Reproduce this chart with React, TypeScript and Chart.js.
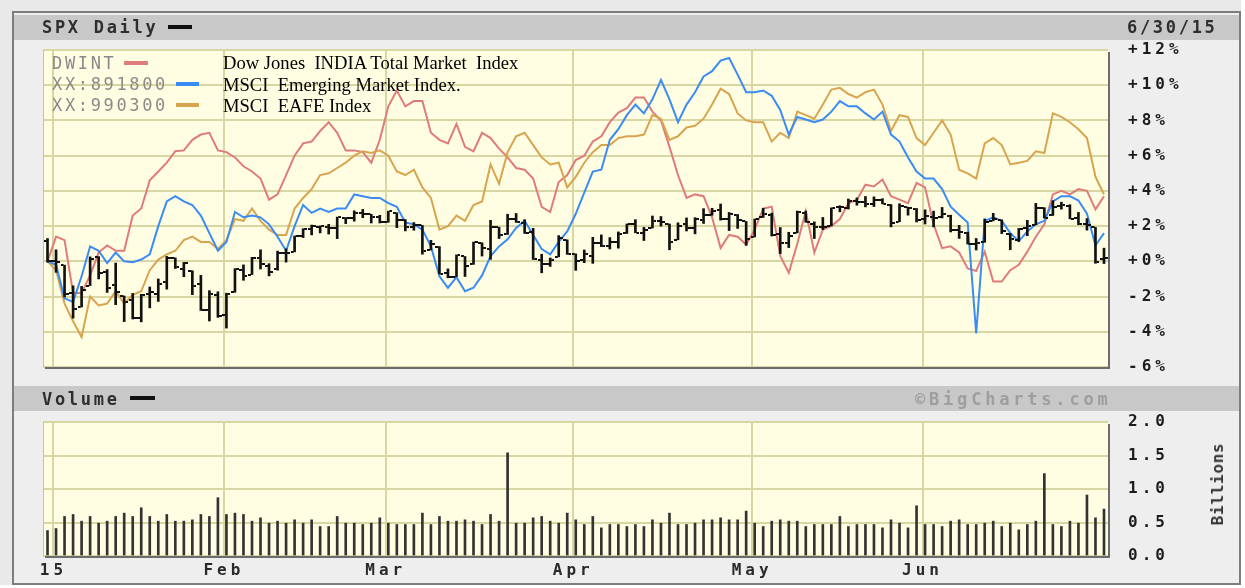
import React, { useEffect, useRef } from 'react';
import { Chart, registerables } from 'chart.js';

Chart.register(...registerables);

// ---------------- DATA ----------------
// SPX reference close on 12/31/14 (0% line of the comparison chart)
const BASE_CLOSE = 2058.9;

// x axis: trading-day index 0 = 12/31/14 ... 124 = 6/30/15
const monthStartIndex = [1, 21, 40, 62, 83, 103];
const monthLabels = ['15', 'Feb', 'Mar', 'Apr', 'May', 'Jun'];

const priceTickValues = [-6, -4, -2, 0, 2, 4, 6, 8, 10, 12];
const priceTickLabels = ['-6%', '-4%', '-2%', '+0%', '+2%', '+4%', '+6%', '+8%', '+10%', '+12%'];
const volumeTickValues = [0, 0.5, 1, 1.5, 2];
const volumeTickLabels = ['0.0', '0.5', '1.0', '1.5', '2.0'];

const spxOpen = [
  2082.11, 2058.9, 2054.44, 2022.15, 2005.55, 2030.61, 2063.45, 2046.13, 2031.58, 2018.4,
  2013.75, 1992.25, 2020.76, 2020.19, 2034.3, 2062.98, 2050.42, 2047.86, 2032.34, 2002.45,
  2019.35, 1996.67, 2022.71, 2048.86, 2043.45, 2062.28, 2053.47, 2049.38, 2068.55, 2069.98,
  2088.78, 2096.47, 2099.16, 2099.25, 2097.65, 2109.83, 2109.1, 2115.3, 2113.91, 2110.88,
  2105.23, 2115.76, 2107.72, 2098.54, 2100.91, 2072.25, 2076.14, 2044.69, 2041.1, 2064.56,
  2055.35, 2080.59, 2072.84, 2098.69, 2090.32, 2107.99, 2103.94, 2093.1, 2059.94, 2055.78,
  2064.11, 2084.05, 2067.63, 2060.03, 2064.87, 2080.79, 2076.94, 2081.29, 2091.51, 2102.03,
  2092.28, 2097.82, 2105.96, 2102.58, 2084.11, 2102.82, 2098.27, 2107.21, 2112.8, 2119.29,
  2108.35, 2112.49, 2105.52, 2087.38, 2110.23, 2112.63, 2091.26, 2079.96, 2092.13, 2115.56,
  2102.87, 2099.62, 2100.43, 2122.07, 2121.3, 2129.45, 2127.79, 2125.55, 2130.36, 2125.34,
  2105.13, 2122.27, 2120.66, 2108.64, 2110.41, 2110.64, 2112.35, 2095.09, 2092.34, 2079.07,
  2081.12, 2106.24, 2107.43, 2091.34, 2084.26, 2097.4, 2101.58, 2121.06, 2112.5, 2123.16,
  2123.65, 2109.96, 2102.62, 2098.63, 2061.19,
];
const spxHigh = [
  2085.58, 2072.36, 2054.44, 2030.25, 2029.61, 2064.08, 2064.43, 2049.3, 2056.93, 2018.4,
  2021.35, 2020.46, 2028.94, 2038.29, 2064.62, 2062.98, 2057.62, 2047.86, 2042.49, 2024.64,
  2023.32, 2021.66, 2050.3, 2054.74, 2063.55, 2072.4, 2056.16, 2070.86, 2073.48, 2088.53,
  2097.03, 2101.3, 2100.23, 2102.13, 2110.61, 2110.05, 2117.94, 2119.59, 2113.91, 2112.74,
  2117.52, 2115.76, 2107.72, 2104.25, 2100.91, 2083.49, 2076.14, 2050.08, 2066.41, 2064.56,
  2081.41, 2080.59, 2106.85, 2098.69, 2113.92, 2114.86, 2107.63, 2097.43, 2067.15, 2062.83,
  2088.97, 2084.05, 2067.63, 2072.17, 2086.99, 2089.81, 2086.69, 2093.31, 2102.61, 2107.65,
  2098.62, 2111.91, 2111.3, 2102.58, 2103.94, 2109.64, 2109.98, 2120.49, 2120.92, 2125.92,
  2116.04, 2113.65, 2105.52, 2108.41, 2120.95, 2115.24, 2098.42, 2092.9, 2117.66, 2117.69,
  2105.06, 2110.19, 2121.45, 2123.89, 2131.78, 2133.02, 2134.72, 2134.28, 2132.15, 2125.34,
  2126.22, 2122.27, 2120.66, 2119.15, 2117.59, 2121.92, 2112.89, 2100.99, 2093.01, 2085.62,
  2108.5, 2115.02, 2107.43, 2091.34, 2097.4, 2106.79, 2126.65, 2121.64, 2129.87, 2128.03,
  2125.1, 2116.04, 2108.92, 2098.63, 2074.28,
];
const spxLow = [
  2057.94, 2046.04, 2017.34, 1992.44, 2005.55, 2030.61, 2038.33, 2022.58, 2008.25, 1988.44,
  1991.47, 1988.12, 2004.49, 2012.04, 2026.38, 2050.54, 2040.97, 2019.91, 2001.49, 1989.18,
  1993.38, 1980.9, 2022.71, 2036.72, 2043.45, 2049.97, 2041.88, 2048.62, 2057.99, 2069.98,
  2086.7, 2089.8, 2092.15, 2090.79, 2085.44, 2103.0, 2105.87, 2109.89, 2103.76, 2103.75,
  2104.5, 2098.26, 2094.49, 2095.22, 2067.27, 2072.21, 2044.16, 2039.69, 2041.1, 2041.17,
  2055.35, 2065.08, 2061.23, 2085.56, 2090.32, 2104.42, 2091.5, 2061.05, 2045.5, 2052.96,
  2064.11, 2067.04, 2048.38, 2057.32, 2056.52, 2076.1, 2073.3, 2074.29, 2091.51, 2092.33,
  2083.24, 2097.82, 2100.02, 2072.37, 2084.11, 2094.38, 2091.05, 2103.19, 2112.8, 2107.04,
  2094.89, 2097.41, 2077.59, 2087.38, 2110.23, 2088.46, 2067.93, 2074.99, 2092.13, 2104.58,
  2085.57, 2096.04, 2100.43, 2116.81, 2120.01, 2124.5, 2122.59, 2122.95, 2126.06, 2099.18,
  2105.13, 2112.86, 2104.89, 2102.54, 2099.14, 2109.61, 2093.23, 2085.67, 2079.11, 2072.14,
  2081.12, 2106.24, 2091.33, 2072.49, 2082.1, 2088.86, 2101.58, 2109.45, 2112.5, 2119.89,
  2108.58, 2101.78, 2095.38, 2056.64, 2056.32,
];
const spxClose = [
  2058.9, 2058.2, 2020.58, 2002.61, 2025.9, 2062.14, 2044.81, 2028.26, 2023.03, 2011.27,
  1992.67, 2019.42, 2022.55, 2032.12, 2063.15, 2051.82, 2057.09, 2029.55, 2002.16, 2021.25,
  1994.99, 2020.85, 2050.03, 2041.51, 2062.52, 2055.47, 2046.74, 2068.59, 2068.53, 2088.48,
  2096.99, 2100.34, 2099.68, 2097.45, 2110.3, 2109.66, 2115.48, 2113.86, 2110.74, 2104.5,
  2117.39, 2107.78, 2098.53, 2101.04, 2071.26, 2079.43, 2044.16, 2040.24, 2065.95, 2053.4,
  2081.19, 2074.28, 2099.5, 2089.27, 2108.1, 2104.42, 2091.5, 2061.05, 2056.15, 2061.02,
  2086.24, 2067.89, 2059.69, 2066.96, 2080.62, 2076.33, 2081.9, 2091.18, 2102.06, 2092.43,
  2095.84, 2106.63, 2104.99, 2081.18, 2100.4, 2097.29, 2107.96, 2112.93, 2117.69, 2108.92,
  2114.76, 2106.85, 2085.51, 2108.29, 2114.49, 2089.46, 2080.15, 2088.0, 2116.1, 2105.33,
  2099.12, 2098.48, 2121.1, 2122.73, 2129.2, 2127.83, 2125.85, 2130.82, 2126.06, 2104.2,
  2123.48, 2120.79, 2107.39, 2111.73, 2109.6, 2114.07, 2095.84, 2092.83, 2079.28, 2080.15,
  2105.2, 2108.86, 2094.11, 2084.43, 2096.29, 2100.44, 2121.24, 2109.99, 2122.85, 2124.2,
  2108.58, 2102.31, 2101.49, 2057.64, 2063.11,
];

// Comparison lines, % change since 12/31/14
const dwint = [
  0.0, 1.4, 1.2, -1.8, -1.8, -0.8, 0.5, 0.9, 0.6, 0.6,
  2.6, 3.0, 4.6, 5.1, 5.6, 6.25, 6.3, 6.9, 7.2, 7.3,
  6.3, 6.2, 5.9, 5.4, 5.1, 4.7, 3.5, 3.8, 4.9, 6.0,
  6.7, 6.8, 7.4, 7.9, 7.3, 6.3, 6.3, 6.2, 5.6, 6.9,
  8.8, 9.7, 8.8, 9.1, 9.1, 7.3, 6.9, 6.7, 7.8, 6.5,
  6.25, 7.3, 7.0, 6.4, 5.9, 5.3, 5.2, 4.7, 3.1, 2.8,
  4.5, 4.9, 5.75, 6.0, 6.8, 7.1, 7.9, 8.45, 8.7, 9.3,
  9.3, 8.5, 8.0, 6.5, 4.9, 3.6, 3.8, 3.7, 2.5, 0.75,
  1.5, 1.4, 0.95, 1.8, 3.0, 3.1, 0.3, -0.65, 1.0, 2.85,
  0.5, 1.8, 2.0, 2.4, 3.3, 3.5, 4.35, 4.25, 4.65, 3.7,
  3.5, 3.3, 4.45, 4.2, 2.1, 0.75, 0.85, 0.5, -0.4, -0.55,
  0.55, -1.15, -1.15, -0.5, -0.2, 0.55, 1.4, 2.1, 3.8, 4.0,
  3.8, 4.1, 4.0, 2.95, 3.7,
];
const msciEM = [
  0.0, -0.2, -2.1, -2.3, -0.85, 0.85, 0.6, -0.1, 0.5, 0.0,
  -0.05, 0.1, 0.4, 2.0, 3.4, 3.7, 3.4, 3.2, 2.6, 1.6,
  0.6, 1.1, 2.8, 2.5, 2.6, 2.5, 2.1, 1.4, 0.6, 2.0,
  3.2, 2.75, 3.0, 2.8, 3.0, 3.0, 3.8, 3.7, 3.6, 3.6,
  3.3, 3.1, 2.2, 2.1, 1.8, 0.85, -0.85, -1.5, -0.9, -1.7,
  -1.5, -0.8, 0.3, 0.85, 1.25, 1.9, 2.3, 1.5, 0.7, 0.4,
  1.1, 1.7, 2.7, 3.9, 5.1, 5.2, 6.9, 7.5, 8.3, 8.9,
  8.4, 9.2, 10.3, 9.2, 7.9, 8.9, 9.6, 10.5, 10.8, 11.4,
  11.55, 10.6, 9.6, 9.6, 9.7, 9.4, 8.6, 7.2, 8.2, 8.05,
  7.9, 8.05, 8.5, 9.1, 8.8, 8.8, 8.4, 8.05, 8.5, 7.2,
  6.8, 5.9, 5.1, 4.7, 4.7, 4.1, 3.1, 2.65, 2.2, -4.1,
  2.3, 2.5, 2.3, 1.6, 1.15, 1.7, 2.1, 2.3, 3.4, 3.7,
  3.7, 3.45, 2.7, 0.9, 1.6,
];
const msciEAFE = [
  0.0, -0.5, -2.4, -3.4, -4.3, -2.0, -2.5, -2.4, -1.7, -2.4,
  -1.9, -1.7, -0.5, 0.1, 0.4, 0.6, 1.2, 1.4, 1.1, 1.1,
  0.7, 1.2, 2.4, 2.3, 3.0, 2.3, 1.8, 1.5, 1.5, 3.0,
  3.6, 4.1, 4.9, 5.0, 5.3, 5.6, 6.0, 6.25, 6.15, 6.3,
  6.0, 5.1, 4.9, 5.2, 4.2, 3.6, 1.8, 2.0, 2.6, 2.3,
  3.2, 3.4, 5.5, 4.4, 6.2, 7.1, 7.3, 6.6, 5.9, 5.5,
  5.6, 4.2, 4.8, 5.6, 6.2, 6.6, 6.6, 7.0, 7.1, 7.1,
  7.2, 8.3, 8.1, 6.9, 7.1, 7.6, 7.7, 8.1, 8.9, 9.8,
  9.5, 8.4, 8.0, 7.9, 7.9, 6.8, 7.3, 7.0, 8.5, 8.3,
  8.1, 8.9, 9.75, 9.85, 9.5, 9.3, 9.6, 9.75, 8.9, 7.4,
  8.3, 8.2, 7.0, 6.6, 7.3, 8.0, 7.2, 5.2, 5.0, 4.7,
  6.7, 7.0, 6.6, 5.5, 5.6, 5.7, 6.25, 6.15, 8.4, 8.2,
  7.9, 7.5, 7.0, 4.8, 3.8,
];

// SPX volume, billions of shares
const volume = [
  0.38, 0.41, 0.59, 0.62, 0.52, 0.59, 0.49, 0.52, 0.59, 0.64,
  0.59, 0.72, 0.59, 0.52, 0.62, 0.52, 0.52, 0.54, 0.62, 0.59,
  0.87, 0.62, 0.64, 0.62, 0.52, 0.57, 0.49, 0.52, 0.49, 0.54,
  0.49, 0.54, 0.44, 0.44, 0.59, 0.49, 0.49, 0.47, 0.49, 0.57,
  0.49, 0.47, 0.47, 0.47, 0.64, 0.47, 0.59, 0.52, 0.52, 0.54,
  0.52, 0.47, 0.62, 0.52, 1.54, 0.49, 0.49, 0.57, 0.59, 0.52,
  0.49, 0.64, 0.54, 0.47, 0.59, 0.42, 0.47, 0.47, 0.44, 0.47,
  0.44, 0.54, 0.49, 0.64, 0.47, 0.47, 0.49, 0.54, 0.54, 0.57,
  0.54, 0.54, 0.67, 0.49, 0.44, 0.52, 0.54, 0.52, 0.52, 0.44,
  0.47, 0.47, 0.47, 0.59, 0.44, 0.47, 0.47, 0.47, 0.42, 0.54,
  0.49, 0.42, 0.75, 0.47, 0.47, 0.44, 0.52, 0.54, 0.47, 0.47,
  0.49, 0.52, 0.44, 0.49, 0.39, 0.47, 0.52, 1.23, 0.47, 0.44,
  0.52, 0.49, 0.91, 0.57, 0.70,
];

// ---------------- LAYOUT / STYLE ----------------
const W = 1245;
const H = 588;
const PLOT_LEFT = 43;
const PLOT_RIGHT = 1108;
const PRICE_TOP = 50;
const PRICE_BOTTOM = 367;
const VOL_TOP = 422;
const VOL_BOTTOM = 556;
const X_MIN = -0.53;
const X_MAX = 124.47;

const RED = '#e07b7b';
const BLUE = '#3a8bf4';
const ORANGE = '#d9a44f';
const GRID = '#d8d6a3';
const PLOT_BG = '#fffee3';
const MONO = "'DejaVu Sans Mono', monospace";
const SERIF = "'Liberation Serif', 'Times New Roman', serif";

const pct = (v: number) => (v / BASE_CLOSE - 1) * 100;

const plotDecor = {
  id: 'plotDecor',
  beforeDraw(chart: any) {
    const { ctx, chartArea: a } = chart;
    ctx.save();
    ctx.fillStyle = PLOT_BG;
    ctx.fillRect(a.left, a.top, a.right - a.left, a.bottom - a.top);
    ctx.restore();
    ctx.letterSpacing = '4px';
  },
  afterDraw(chart: any) {
    const { ctx, chartArea: a } = chart;
    ctx.save();
    ctx.letterSpacing = '0px';
    ctx.strokeStyle = '#c2c2b2';
    ctx.lineWidth = 1;
    ctx.beginPath();
    ctx.moveTo(a.left + 0.5, a.top);
    ctx.lineTo(a.left + 0.5, a.bottom);
    ctx.stroke();
    ctx.strokeStyle = '#6c6c6c';
    ctx.lineWidth = 2;
    ctx.beginPath();
    ctx.moveTo(a.right + 1, a.top + 2);
    ctx.lineTo(a.right + 1, a.bottom + 1);
    ctx.lineTo(a.left + 2, a.bottom + 1);
    ctx.stroke();
    ctx.restore();
  },
};

function tickImage(side: 'left' | 'right') {
  const c = document.createElement('canvas');
  c.width = 8;
  c.height = 2;
  const g = c.getContext('2d')!;
  g.fillStyle = '#111111';
  if (side === 'left') g.fillRect(0, 0, 3, 2);
  else g.fillRect(5, 0, 3, 2);
  return c;
}

const axisFont = { family: MONO, size: 16, weight: 'bold' as const };

function monthXScale(showLabels: boolean, height: number) {
  return {
    type: 'linear' as const,
    min: X_MIN,
    max: X_MAX,
    offset: false,
    bounds: 'data' as const,
    afterBuildTicks: (s: any) => {
      s.ticks = monthStartIndex.map((i) => ({ value: i - 0.3 }));
    },
    afterFit: (s: any) => {
      s.height = height;
    },
    grid: { color: GRID, lineWidth: 2, drawTicks: false, offset: false },
    border: { display: false },
    ticks: showLabels
      ? {
          autoSkip: false,
          maxRotation: 0,
          padding: 5,
          color: '#2a2a2a',
          font: axisFont,
          callback: (_v: any, idx: number) => monthLabels[idx],
        }
      : { display: false },
  };
}

function rightYScale(min: number, max: number, values: number[], labels: string[]) {
  return {
    position: 'right' as const,
    min,
    max,
    afterBuildTicks: (s: any) => {
      s.ticks = values.map((v) => ({ value: v }));
    },
    afterFit: (s: any) => {
      s.width = W - PLOT_RIGHT;
    },
    grid: { color: GRID, lineWidth: 2, drawTicks: false },
    border: { display: false },
    ticks: {
      padding: 20,
      color: '#1c1c1c',
      font: axisFont,
      callback: (_v: any, idx: number) => labels[idx],
    },
  };
}

const commonOptions = {
  responsive: false,
  animation: false as const,
  events: [] as any[],
  plugins: { legend: { display: false }, tooltip: { enabled: false }, title: { display: false } },
};

function PriceChart() {
  const ref = useRef<HTMLCanvasElement>(null);
  useEffect(() => {
    const openImg = tickImage('left');
    const closeImg = tickImage('right');
    const line = (label: string, vals: number[], color: string, order: number) => ({
      type: 'line' as const,
      label,
      data: vals.map((y, i) => ({ x: i, y })),
      borderColor: color,
      borderWidth: 2,
      pointRadius: 0,
      tension: 0,
      order,
    });
    const chart = new Chart(ref.current!, {
      type: 'line',
      data: {
        datasets: [
          line('DWINT', dwint, RED, 4),
          line('XX:990300', msciEAFE, ORANGE, 3),
          line('XX:891800', msciEM, BLUE, 2),
          {
            type: 'bar',
            label: 'SPX range',
            data: spxHigh.map((h, i) => ({ x: i, y: [pct(spxLow[i]), pct(h)] })),
            backgroundColor: '#111111',
            barThickness: 2,
            order: 1,
          } as any,
          {
            type: 'line',
            label: 'SPX open',
            data: spxOpen.map((o, i) => ({ x: i, y: pct(o) })),
            showLine: false,
            pointStyle: openImg,
            pointRadius: 3,
            order: 0,
          } as any,
          {
            type: 'line',
            label: 'SPX close',
            data: spxClose.map((c, i) => ({ x: i, y: pct(c) })),
            showLine: false,
            pointStyle: closeImg,
            pointRadius: 3,
            order: 0,
          } as any,
        ],
      },
      options: {
        ...commonOptions,
        layout: { padding: { left: PLOT_LEFT, top: PRICE_TOP, right: 0, bottom: H - PRICE_BOTTOM } },
        scales: {
          x: monthXScale(false, 0) as any,
          y: rightYScale(-6, 12, priceTickValues, priceTickLabels) as any,
        },
      },
      plugins: [plotDecor],
    });
    return () => chart.destroy();
  }, []);
  return <canvas ref={ref} width={W} height={H} style={{ position: 'absolute', left: 0, top: 0 }} />;
}

function VolumeChart() {
  const ref = useRef<HTMLCanvasElement>(null);
  useEffect(() => {
    const chart = new Chart(ref.current!, {
      type: 'bar',
      data: {
        datasets: [
          {
            label: 'Volume',
            data: volume.map((v, i) => ({ x: i, y: v })) as any,
            backgroundColor: '#333333',
            barThickness: 2,
          },
        ],
      },
      options: {
        ...commonOptions,
        layout: { padding: { left: PLOT_LEFT, top: VOL_TOP, right: 0, bottom: 0 } },
        scales: {
          x: monthXScale(true, H - VOL_BOTTOM) as any,
          y: rightYScale(0, 2, volumeTickValues, volumeTickLabels) as any,
        },
      },
      plugins: [plotDecor],
    });
    return () => chart.destroy();
  }, []);
  return <canvas ref={ref} width={W} height={H} style={{ position: 'absolute', left: 0, top: 0 }} />;
}

type TxtProps = {
  x: number;
  baseline: number;
  size: number;
  font?: string;
  color?: string;
  weight?: number | string;
  spacing?: number;
  children: React.ReactNode;
};
function Txt({ x, baseline, size, font = MONO, color = '#222', weight = 'normal', spacing = 0, children }: TxtProps) {
  const asc = font === SERIF ? 0.8375 : 0.846;
  return (
    <div
      style={{
        position: 'absolute',
        left: x,
        top: baseline - size * asc,
        fontFamily: font,
        fontSize: size,
        lineHeight: `${size}px`,
        color,
        fontWeight: weight as any,
        letterSpacing: spacing,
        whiteSpace: 'pre',
      }}
    >
      {children}
    </div>
  );
}

function Box({ x, y, w, h, bg, extra }: { x: number; y: number; w: number; h: number; bg: string; extra?: any }) {
  return <div style={{ position: 'absolute', left: x, top: y, width: w, height: h, background: bg, boxSizing: 'border-box', ...extra }} />;
}

export default function App() {
  return (
    <div style={{ position: 'absolute', left: 0, top: 0, width: W, height: H, overflow: 'hidden', background: '#e9e9e9' }}>
      <Box x={1241} y={0} w={4} h={H} bg="#ffffff" />
      <Box x={0} y={585} w={W} h={3} bg="#ffffff" />
      <Box x={12} y={11} w={1229} h={574} bg="#eeeeee" extra={{ border: '2px solid #7d7d7d' }} />
      <Box x={14} y={15} w={1225} h={25} bg="#c8c8c8" />
      <Box x={14} y={386} w={1225} h={25} bg="#c8c8c8" />

      <PriceChart />
      <VolumeChart />

      <Txt x={42} baseline={33.3} size={17} weight="bold" color="#2e2e2e" spacing={2.7}>SPX Daily</Txt>
      <Box x={168} y={25} w={24} h={4} bg="#111111" />
      <Txt x={1127} baseline={33.3} size={17} weight="bold" color="#2e2e2e" spacing={2.7}>6/30/15</Txt>

      <Txt x={42} baseline={405} size={17} weight="bold" color="#2e2e2e" spacing={2.7}>Volume</Txt>
      <Box x={130} y={396} w={25} h={4} bg="#111111" />
      <Txt x={915} baseline={405} size={17} weight="bold" color="#9e9e9e" spacing={3.8}>©BigCharts.com</Txt>

      <div
        style={{
          position: 'absolute',
          left: 1218,
          top: 484,
          transform: 'translate(-50%, -50%) rotate(-90deg)',
          fontFamily: MONO,
          fontSize: 16,
          lineHeight: '16px',
          fontWeight: 'bold',
          color: '#333',
          letterSpacing: 0.7,
          whiteSpace: 'pre',
        }}
      >
        Billions
      </div>

      <Txt x={52} baseline={69.3} size={17} color="#8a8a8a" spacing={2.65}>DWINT</Txt>
      <Box x={124} y={61} w={24} h={4} bg={RED} />
      <Txt x={52} baseline={90} size={17} color="#8a8a8a" spacing={2.65}>XX:891800</Txt>
      <Box x={176} y={82} w={23} h={4} bg={BLUE} />
      <Txt x={52} baseline={111} size={17} color="#8a8a8a" spacing={2.65}>XX:990300</Txt>
      <Box x={176} y={103} w={23} h={4} bg={ORANGE} />

      <Txt x={223} baseline={70} size={18.6} font={SERIF} color="#000">Dow Jones  INDIA Total Market  Index</Txt>
      <Txt x={223} baseline={91.7} size={18.6} font={SERIF} color="#000">MSCI  Emerging Market Index.</Txt>
      <Txt x={223} baseline={112.7} size={18.6} font={SERIF} color="#000">MSCI  EAFE Index</Txt>
    </div>
  );
}
